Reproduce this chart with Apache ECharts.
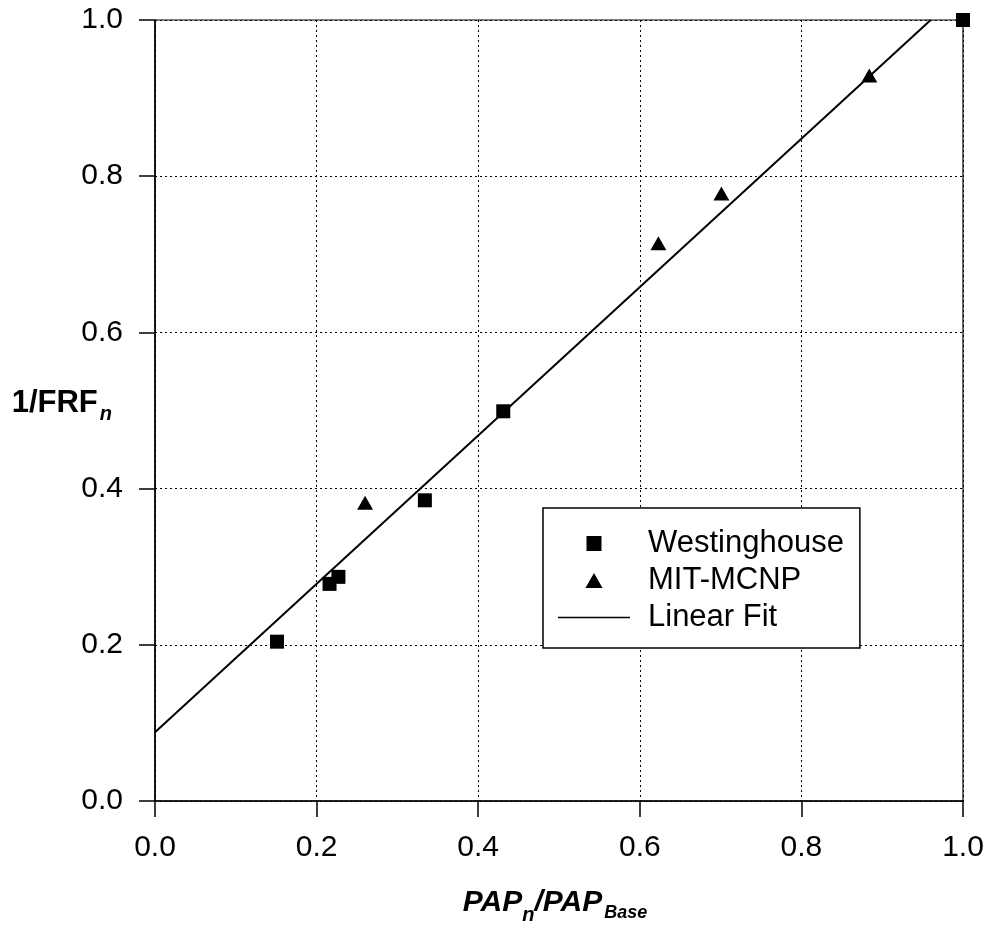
<!DOCTYPE html>
<html>
<head>
<meta charset="utf-8">
<script src="https://cdn.jsdelivr.net/npm/echarts@6/dist/echarts.min.js"></script>
<style>html,body{margin:0;padding:0;background:#fff;}#c{width:990px;height:928px;}</style>
</head>
<body>
<div id="c"></div>
<script>
// Data
var westinghouseX = [0.151, 0.216, 0.227, 0.334, 0.431, 1.0];
var westinghouseY = [0.204, 0.278, 0.287, 0.385, 0.499, 1.0];
var mitX = [0.260, 0.623, 0.701, 0.884];
var mitY = [0.382, 0.714, 0.778, 0.929];
var fitX = [0.0, 0.96];
var fitY = [0.088, 1.0];
var xTicks = [0.0, 0.2, 0.4, 0.6, 0.8, 1.0];
var yTicks = [0.0, 0.2, 0.4, 0.6, 0.8, 1.0];
var seriesNames = ['Westinghouse', 'MIT-MCNP', 'Linear Fit'];

function pairs(xs, ys) { return xs.map(function (x, i) { return [x, ys[i]]; }); }

var FONT = '"Liberation Sans", Arial, Helvetica, sans-serif';
var chart = echarts.init(document.getElementById('c'), null, { renderer: 'canvas' });

var axisCommon = {
  type: 'value',
  min: xTicks[0], max: xTicks[xTicks.length - 1], interval: 0.2,
  nameMoveOverlap: false,
  axisLine: { show: true, onZero: false, lineStyle: { color: '#000', width: 1.5 } },
  axisTick: { show: true, length: 16, lineStyle: { color: '#000', width: 1.5 } },
  splitLine: { show: true, lineStyle: { color: '#000', width: 1, type: [2, 3] } },
  axisLabel: { color: '#000', fontFamily: FONT, fontSize: 30, formatter: function (v) { return v.toFixed(1); } }
};

var option = {
  backgroundColor: '#fff',
  animation: false,
  grid: {
    left: 155, right: 27, top: 20, bottom: 127,
    containLabel: false, outerBoundsMode: 'none',
    show: true, borderColor: '#000', borderWidth: 1.2, backgroundColor: 'transparent'
  },
  xAxis: Object.assign({}, axisCommon, {
    axisLabel: Object.assign({}, axisCommon.axisLabel, { margin: 32 }),
    name: '{a|PAP}{b|n}{a|/PAP}{c|Base}',
    nameLocation: 'middle',
    nameGap: 80,
    nameTextStyle: {
      fontFamily: FONT,
      padding: [0, 8, 0, 0],
      rich: {
        a: { fontFamily: FONT, fontSize: 30, fontWeight: 'bold', fontStyle: 'italic', color: '#000' },
        b: { fontFamily: FONT, fontSize: 20, fontWeight: 'bold', fontStyle: 'italic', color: '#000', padding: [24, 0, 0, 0] },
        c: { fontFamily: FONT, fontSize: 18, fontWeight: 'bold', fontStyle: 'italic', color: '#000', padding: [20, 0, 0, 2] }
      }
    }
  }),
  yAxis: Object.assign({}, axisCommon, {
    min: yTicks[0], max: yTicks[yTicks.length - 1],
    axisLabel: Object.assign({}, axisCommon.axisLabel, { margin: 32 }),
    name: '{a|1/FRF}{b|n}',
    nameLocation: 'middle',
    nameRotate: 0,
    nameGap: 43,
    nameTextStyle: {
      fontFamily: FONT,
      align: 'right',
      padding: [0, 0, 14, 0],
      rich: {
        a: { fontFamily: FONT, fontSize: 31, fontWeight: 'bold', color: '#000' },
        b: { fontFamily: FONT, fontSize: 20, fontWeight: 'bold', fontStyle: 'italic', color: '#000', padding: [22, 0, 0, 2] }
      }
    }
  }),
  legend: {
    orient: 'vertical',
    left: 543, top: 508,
    padding: [20, 16, 15, 15],
    itemGap: 6,
    itemWidth: 72,
    itemHeight: 15,
    symbolKeepAspect: true,
    backgroundColor: '#fff',
    borderColor: '#000',
    borderWidth: 1.5,
    borderRadius: 0,
    textStyle: { fontFamily: FONT, fontSize: 31, color: '#000', lineHeight: 30, padding: [0, 0, 0, 13] },
    data: [
      { name: seriesNames[0], icon: 'path://M0,0 L14,0 L14,14 L0,14 Z' },
      { name: seriesNames[1], icon: 'path://M8,0 L16,14 L0,14 Z' },
      { name: seriesNames[2], icon: 'path://M0,0 L72,0 L72,1.5 L0,1.5 Z' }
    ]
  },
  series: [
    {
      name: seriesNames[0], type: 'scatter', symbol: 'rect', symbolSize: 14,
      itemStyle: { color: '#000', opacity: 1 }, data: pairs(westinghouseX, westinghouseY), z: 5
    },
    {
      name: seriesNames[1], type: 'scatter', symbol: 'triangle', symbolSize: [16, 14],
      itemStyle: { color: '#000', opacity: 1 }, data: pairs(mitX, mitY), z: 5
    },
    {
      name: seriesNames[2], type: 'line', symbol: 'none', showSymbol: false,
      lineStyle: { color: '#000', width: 2 }, itemStyle: { color: '#000' },
      data: pairs(fitX, fitY), z: 4
    }
  ]
};
chart.setOption(option);
</script>
</body>
</html>
